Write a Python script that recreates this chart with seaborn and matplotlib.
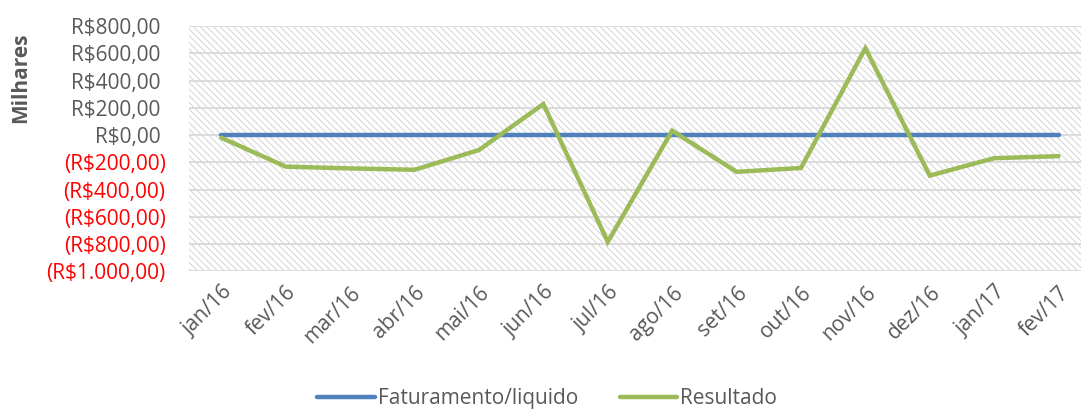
import matplotlib
matplotlib.use("Agg")
import matplotlib.pyplot as plt
from matplotlib.patches import Rectangle
import seaborn as sns
import pandas as pd

# === Data (R$ milhares) ===
meses = ['jan/16', 'fev/16', 'mar/16', 'abr/16', 'mai/16', 'jun/16', 'jul/16',
         'ago/16', 'set/16', 'out/16', 'nov/16', 'dez/16', 'jan/17', 'fev/17']
faturamento = [0, 0, 0, 0, 0, 0, 0, 0, 0, 0, 0, 0, 0, 0]
resultado = [-20, -232, -245, -255, -110, 228, -785, 32, -270, -242, 638, -298, -170, -155]
yticks = [800, 600, 400, 200, 0, -200, -400, -600, -800, -1000]

df = pd.concat([
    pd.DataFrame({'mes': meses, 'valor': faturamento, 'serie': 'Faturamento/liquido'}),
    pd.DataFrame({'mes': meses, 'valor': resultado, 'serie': 'Resultado'}),
], ignore_index=True)


def brl(v):
    s = f"{abs(v):,.2f}".replace(',', 'X').replace('.', ',').replace('X', '.')
    return f"(R${s})" if v < 0 else f"R${s} "


sns.set_style('white')
plt.rcParams['font.family'] = ['Open Sans', 'DejaVu Sans']
plt.rcParams['hatch.linewidth'] = 0.7
GRAY = '#595959'
FS = 15

fig = plt.figure(figsize=(10.81, 4.09), dpi=100)
# plot area runs slightly past the right edge of the image, as in the reference
ax = fig.add_axes([0.175, 0.337, 0.834, 0.599])

# hatched plot area
ax.add_patch(Rectangle((0, 0), 1, 1, transform=ax.transAxes, fill=False,
                       hatch='\\\\\\\\\\', edgecolor='#d4d4d4', lw=0, zorder=0))

sns.lineplot(data=df, x='mes', y='valor', hue='serie', sort=False, ax=ax,
             palette={'Faturamento/liquido': '#4F81BD', 'Resultado': '#9BBB59'},
             linewidth=3.2, solid_capstyle='round', solid_joinstyle='miter', zorder=3)

ax.set_xlim(-0.5, len(meses) - 0.5)
ax.set_ylim(-1000, 800)
ax.set_yticks(yticks)
ax.set_yticklabels([brl(v) for v in yticks], fontsize=FS)
for lab, v in zip(ax.get_yticklabels(), yticks):
    lab.set_color('red' if v < 0 else GRAY)
ax.set_xticks(range(len(meses)))
ax.set_xticklabels(meses, rotation=45, ha='right', rotation_mode='anchor',
                   fontsize=FS, color=GRAY)
ax.tick_params(axis='y', length=0, pad=17)
ax.tick_params(axis='x', length=0, pad=8)
ax.grid(axis='y', color='#d9d9d9', linewidth=1.3, zorder=1)
ax.set_axisbelow(True)
for s in ax.spines.values():
    s.set_visible(False)

ax.set_xlabel('')
ax.set_ylabel('')
fig.text(0.019, 0.81, 'Milhares', rotation=90, ha='center', va='center',
         fontsize=FS, fontweight='bold', color=GRAY)

ax.legend(loc='center', bbox_to_anchor=(0.397, -0.52), ncol=2, frameon=False,
          fontsize=FS, labelcolor=GRAY, handlelength=2.75, columnspacing=2.0,
          handletextpad=0.15)

fig.savefig('out.png', dpi=100)
